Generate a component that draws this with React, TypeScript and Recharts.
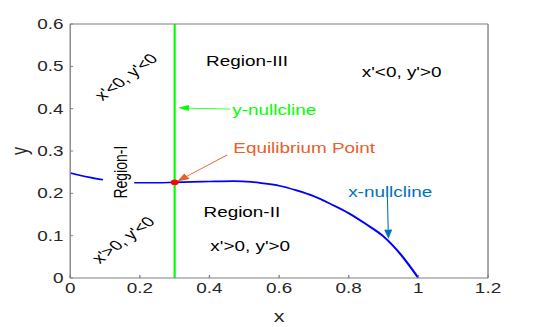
import { LineChart, Line, XAxis, YAxis, ReferenceLine, ReferenceDot, Label } from "recharts";

// axis ticks
const xTicks = [0, 0.2, 0.4, 0.6, 0.8, 1, 1.2];
const yTicks = [0, 0.1, 0.2, 0.3, 0.4, 0.5, 0.6];

// x-nullcline (drawn in two pieces, the gap sits under "Region-I")
const xNullLeftX = [0, 0.03, 0.06, 0.094];
const xNullLeftY = [0.248, 0.242, 0.237, 0.232];
const xNullRightX = [0.184, 0.25, 0.3, 0.35, 0.4, 0.47, 0.52, 0.55, 0.6, 0.65, 0.7, 0.75, 0.8, 0.85, 0.9, 0.95, 1];
const xNullRightY = [0.225, 0.225, 0.226, 0.227, 0.228, 0.229, 0.227, 0.224, 0.218, 0.207, 0.193, 0.174, 0.153, 0.127, 0.098, 0.055, 0];

// y-nullcline and the equilibrium
const yNullX = 0.3;
const eqX = 0.3;
const eqY = 0.226;

const leftSeg = xNullLeftX.map((x, i) => ({ x, y: xNullLeftY[i] }));
const rightSeg = xNullRightX.map((x, i) => ({ x, y: xNullRightY[i] }));

const FONT = "'Liberation Sans', Arial, Helvetica, sans-serif";
const AXIS = "#808080";
const TXT = "#262626";
const STRETCH = 1.35; // the original figure is stretched sideways
const W = 400;
const H = 327;

const fmt = (v: number) => String(v);

function BottomTick({ x, y, payload }: any) {
  return (
    <g>
      <line x1={x} y1={y - 5} x2={x} y2={y - 8} stroke={AXIS} />
      <text x={x} y={y} dy="0.72em" textAnchor="middle" fill={TXT} fontSize={14} fontFamily={FONT}>
        {fmt(payload.value)}
      </text>
    </g>
  );
}

function LeftTick({ x, y, payload }: any) {
  return (
    <g>
      <line x1={x + 5} y1={y} x2={x + 7.2} y2={y} stroke={AXIS} />
      <text x={x} y={y} dy="0.36em" textAnchor="end" fill={TXT} fontSize={14} fontFamily={FONT}>
        {fmt(payload.value)}
      </text>
    </g>
  );
}

function TopTick({ x, y }: any) {
  return <line x1={x} y1={y} x2={x} y2={y + 3} stroke={AXIS} />;
}

function RightTick({ x, y }: any) {
  return <line x1={x} y1={y} x2={x - 2.2} y2={y} stroke={AXIS} />;
}

const note = (txt: string, color: string, rotate = 0) => (p: any) => (
  <text
    x={p.cx}
    y={p.cy}
    dy="0.35em"
    textAnchor="middle"
    fill={color}
    fontSize={14}
    fontFamily={FONT}
    transform={rotate ? `rotate(${rotate} ${p.cx} ${p.cy})` : undefined}
  >
    {txt}
  </text>
);

const arrow = (color: string, len = 9, half = 3.2) => (p: any) => {
  const { x1, y1, x2, y2 } = p;
  const a = Math.atan2(y2 - y1, x2 - x1);
  const c = Math.cos(a);
  const s = Math.sin(a);
  const bx = x2 - len * c;
  const by = y2 - len * s;
  const pts = `${x2},${y2} ${bx - half * s},${by + half * c} ${bx + half * s},${by - half * c}`;
  return (
    <g>
      <line x1={x1} y1={y1} x2={bx} y2={by} stroke={color} strokeWidth={0.8} />
      <polygon points={pts} fill={color} />
    </g>
  );
};

export default function App() {
  return (
    <div
      style={{
        position: "absolute",
        left: 0,
        top: 0,
        width: W,
        height: H,
        background: "#fff",
        transform: `scaleX(${STRETCH})`,
        transformOrigin: "0 0",
      }}
    >
      <LineChart width={W} height={H} margin={{ top: 4, right: 18.5, bottom: 19, left: 0 }}>
        <XAxis
          dataKey="x"
          type="number"
          domain={[0, 1.2]}
          ticks={xTicks}
          tickSize={0}
          tickMargin={5}
          tick={<BottomTick />}
          stroke={AXIS}
          height={30}
          label={
            <Label
              content={({ viewBox }: any) => (
                <text
                  x={viewBox.x + viewBox.width / 2}
                  y={viewBox.y + 44}
                  textAnchor="middle"
                  fill={TXT}
                  fontSize={16}
                  fontFamily={FONT}
                >
                  x
                </text>
              )}
            />
          }
        />
        <XAxis
          xAxisId="top"
          orientation="top"
          dataKey="x"
          type="number"
          domain={[0, 1.2]}
          ticks={xTicks}
          tickSize={0}
          tickMargin={0}
          tick={<TopTick />}
          stroke={AXIS}
          height={20}
        />
        <YAxis
          type="number"
          domain={[0, 0.6]}
          ticks={yTicks}
          tickSize={0}
          tickMargin={5}
          tick={<LeftTick />}
          stroke={AXIS}
          width={52}
          label={
            <Label
              content={({ viewBox }: any) => {
                const cx = viewBox.x + 20;
                const cy = viewBox.y + viewBox.height / 2;
                return (
                  <text
                    x={cx}
                    y={cy}
                    textAnchor="middle"
                    fill={TXT}
                    fontSize={16}
                    fontFamily={FONT}
                    transform={`rotate(-90 ${cx} ${cy})`}
                  >
                    y
                  </text>
                );
              }}
            />
          }
        />
        <YAxis
          yAxisId="right"
          orientation="right"
          type="number"
          domain={[0, 0.6]}
          ticks={yTicks}
          tickSize={0}
          tickMargin={0}
          tick={<RightTick />}
          stroke={AXIS}
          width={20}
        />

        <ReferenceLine x={yNullX} stroke="#00ff00" strokeWidth={1.6} />

        <Line data={leftSeg} dataKey="y" type="monotone" stroke="#0000ff" strokeWidth={1.7} dot={false} isAnimationActive={false} />
        <Line data={rightSeg} dataKey="y" type="monotone" stroke="#0000ff" strokeWidth={1.7} dot={false} isAnimationActive={false} />

        <ReferenceDot x={eqX} y={eqY} r={2.4} fill="#ff0000" stroke="#ff0000" />

        {/* annotation arrows */}
        <ReferenceLine segment={[{ x: 0.459, y: 0.399 }, { x: 0.31, y: 0.402 }]} shape={arrow("#00ff00", 8, 3)} />
        <ReferenceLine segment={[{ x: 0.451, y: 0.291 }, { x: 0.307, y: 0.228 }]} shape={arrow("#e8602c", 9, 3.4)} />
        <ReferenceLine segment={[{ x: 0.911, y: 0.192 }, { x: 0.914, y: 0.093 }]} shape={arrow("#0072bd", 9, 3)} />

        {/* region labels */}
        <ReferenceDot x={0.508} y={0.513} r={0} shape={note("Region-III", "#000")} />
        <ReferenceDot x={0.952} y={0.487} r={0} shape={note("x'<0, y'>0", "#000")} />
        <ReferenceDot x={0.586} y={0.397} r={0} shape={note("y-nullcline", "#00ff00")} />
        <ReferenceDot x={0.672} y={0.307} r={0} shape={note("Equilibrium Point", "#e8602c")} />
        <ReferenceDot x={0.919} y={0.204} r={0} shape={note("x-nullcline", "#0072bd")} />
        <ReferenceDot x={0.493} y={0.155} r={0} shape={note("Region-II", "#000")} />
        <ReferenceDot x={0.517} y={0.076} r={0} shape={note("x'>0, y'>0", "#000")} />
        <ReferenceDot x={0.144} y={0.25} r={0} shape={note("Region-I", "#000", -90)} />
        <ReferenceDot x={0.16} y={0.475} r={0} shape={note("x'<0, y'<0", "#000", -45)} />
        <ReferenceDot x={0.152} y={0.09} r={0} shape={note("x'>0, y'<0", "#000", -45)} />
      </LineChart>
    </div>
  );
}
